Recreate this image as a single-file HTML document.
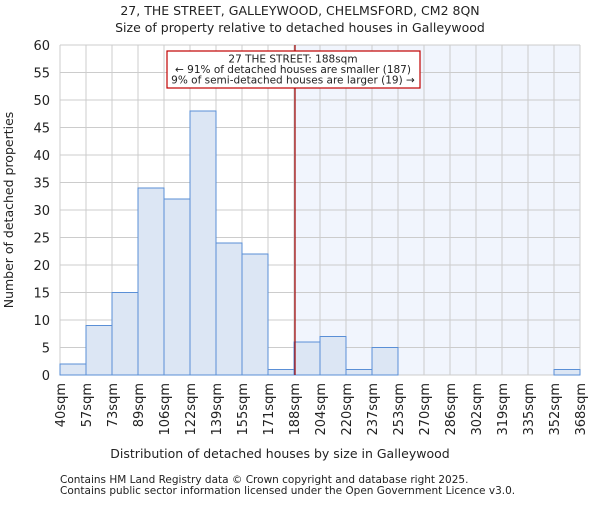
<!DOCTYPE html>
<html><head><meta charset="utf-8"><style>
body{margin:0;background:#fff;}
svg text{font-family:"DejaVu Sans","Liberation Sans",sans-serif;fill:#222;}
</style></head><body>
<svg id="c" width="600" height="500">
<text x="300" y="15" text-anchor="middle" font-size="12.5">27, THE STREET, GALLEYWOOD, CHELMSFORD, CM2 8QN</text>
<text x="300" y="32" text-anchor="middle" font-size="12.5">Size of property relative to detached houses in Galleywood</text>
<g id="plot"></g>
<text x="280" y="458" text-anchor="middle" font-size="12.5">Distribution of detached houses by size in Galleywood</text>
<text transform="translate(13,210) rotate(-90)" text-anchor="middle" font-size="12.5">Number of detached properties</text>
<text x="60" y="483" font-size="10.5" fill="#444">Contains HM Land Registry data © Crown copyright and database right 2025.</text>
<text x="60" y="494" font-size="10.5" fill="#444">Contains public sector information licensed under the Open Government Licence v3.0.</text>
</svg>
<script>
const binLabels=["40sqm","57sqm","73sqm","89sqm","106sqm","122sqm","139sqm","155sqm","171sqm","188sqm","204sqm","220sqm","237sqm","253sqm","270sqm","286sqm","302sqm","319sqm","335sqm","352sqm","368sqm"];
const counts=[2,9,15,34,32,48,24,22,1,6,7,1,5,0,0,0,0,0,0,1];
const yTicks=[0,5,10,15,20,25,30,35,40,45,50,55,60];
const markerIndex=9;
const L=60,R=580,T=45,B=375,yMax=60;
const n=counts.length,bw=(R-L)/n;
const xs=i=>L+i*bw, ys=v=>B-(v/yMax)*(B-T);
const g=document.getElementById('plot'),NS="http://www.w3.org/2000/svg";
function mk(t,a,p){const e=document.createElementNS(NS,t);for(const k in a)e.setAttribute(k,a[k]);(p||g).appendChild(e);return e;}
let e=mk('rect',{x:xs(markerIndex),y:T,width:R-xs(markerIndex),height:B-T,fill:'#eef3fc',opacity:0.8});


yTicks.forEach(v=>{let l=mk('line',{x1:L,x2:R,y1:ys(v),y2:ys(v),stroke:'#ccc'});


let t=mk('text',{x:L-10,y:ys(v)+5,'text-anchor':'end','font-size':'13'});t.textContent=v;

});
binLabels.forEach((s,i)=>{let l=mk('line',{x1:xs(i),x2:xs(i),y1:T,y2:B,stroke:'#ccc'});


let t=mk('text',{transform:`translate(${xs(i)+5},${B+8}) rotate(-90)`,'text-anchor':'end','font-size':'13'});t.textContent=s;

});
counts.forEach((v,i)=>{if(v<=0)return;let r=mk('rect',{x:xs(i),y:ys(v),width:bw,height:B-ys(v),fill:'#dce6f4',stroke:'#5a8fd6','stroke-width':1});

});
e=mk('line',{x1:xs(markerIndex)+1,x2:xs(markerIndex)+1,y1:T,y2:B,stroke:'#a00000','stroke-width':1.2});


e=mk('rect',{x:167,y:51,width:253,height:37,fill:'#fff',stroke:'#c00000','stroke-width':1.2});


["27 THE STREET: 188sqm","← 91% of detached houses are smaller (187)","9% of semi-detached houses are larger (19) →"].forEach((s,k)=>{let t=mk('text',{x:293,y:62.5+k*10.5,'text-anchor':'middle','font-size':'10.5'});t.textContent=s;

});
</script>
</body></html>
